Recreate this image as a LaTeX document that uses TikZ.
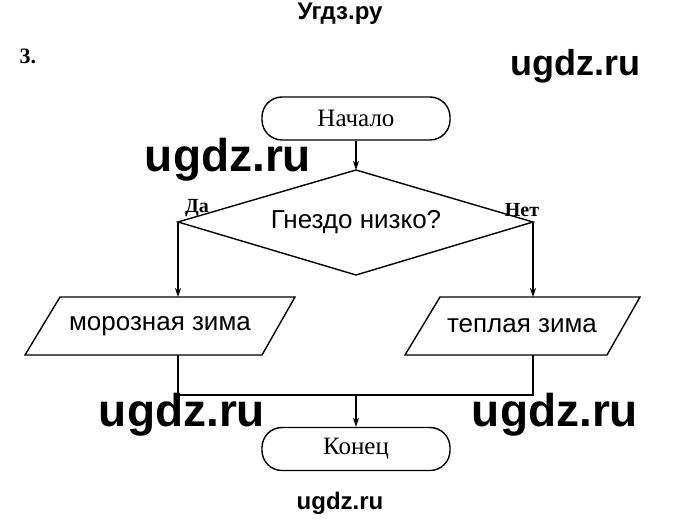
\documentclass[tikz,border=0pt]{standalone}
\usepackage{fontspec}
\setsansfont{Liberation Sans}
\setmainfont{Liberation Serif}
\usetikzlibrary{shapes.geometric,arrows.meta}
\begin{document}
\begin{tikzpicture}[x=1pt,y=-1pt,
  term/.style={draw,rounded corners=20pt,minimum width=188pt,minimum height=43pt,font=\rmfamily\fontsize{25}{28}\selectfont,line width=1.4pt},
  io/.style={draw,line width=1.4pt},
  wm/.style={font=\sffamily\bfseries\fontsize{46}{50}\selectfont},
  wms/.style={font=\sffamily\bfseries\fontsize{24}{26}\selectfont},
  lbl/.style={font=\rmfamily\bfseries\fontsize{20}{22}\selectfont},
  txt/.style={font=\sffamily\fontsize{26}{30}\selectfont},
  arr/.style={line width=1.4pt,-{Stealth[length=9pt,width=6pt]}},
  ln/.style={line width=1.4pt}]
\useasboundingbox (0,0) rectangle (680,521);
\node[wms] (t1) at (340,14) {Угдз.ру};
\node[font=\rmfamily\bfseries\fontsize{22}{24}\selectfont] (n3) at (28,56) {3.};
\node[wm,font=\sffamily\bfseries\fontsize{36}{40}\selectfont] (w1) at (575,66) {ugdz.ru};
\node[term] (start) at (356,118.5) {Начало};
\coordinate (dt) at (356,170);
\coordinate (dl) at (178,222);
\coordinate (dr) at (533,222);
\coordinate (db) at (356,275);
\draw[ln] (dt) -- (dr) -- (db) -- (dl) -- cycle;
\node[txt] (q) at (356,222) {Гнездо низко?};
\node[wm] (w2) at (228,160) {ugdz.ru};
\node[lbl] (da) at (197,208) {Да};
\node[lbl] (net) at (522,210) {Нет};
\draw[arr] (start.south) -- (dt);
\draw[io] (60,297) -- (295,297) -- (262,355) -- (25,355) -- cycle;
\draw[io] (440,297) -- (640,297) -- (607,355) -- (405,355) -- cycle;
\node[txt] (l) at (160,326) {морозная зима};
\node[txt] (r) at (522,326) {теплая зима};
\coordinate (lt) at (178,297);
\coordinate (rt) at (533,297);
\draw[arr] (dl) -- (lt);
\draw[arr] (dr) -- (rt);
\coordinate (lb) at (178,355);
\coordinate (rb) at (533,355);
\coordinate (lc) at (178,395);
\coordinate (rc) at (533,395);
\coordinate (mc) at (356,395);
\draw[ln] (lb) -- (lc) -- (rc) -- (rb);
\node[term] (end) at (356,449) {Конец};
\draw[arr] (mc) -- (end.north);
\node[wm] (w3) at (182,415) {ugdz.ru};
\node[wm] (w4) at (555,415) {ugdz.ru};
\node[wms] (w5) at (340,503) {ugdz.ru};
\end{tikzpicture}
\end{document}
